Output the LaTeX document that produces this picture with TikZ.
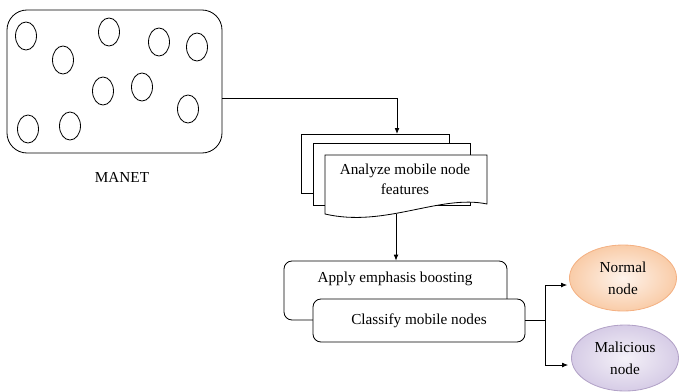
\documentclass[tikz,border=0pt]{standalone}
\usepackage{fontspec}
\setmainfont{Liberation Serif}
\usetikzlibrary{arrows.meta,positioning,calc,shapes.geometric}
\definecolor{normalin}{RGB}{254,243,235}
\definecolor{normalout}{RGB}{249,204,168}
\definecolor{normalline}{RGB}{244,177,131}
\definecolor{maliin}{RGB}{244,241,248}
\definecolor{maliout}{RGB}{214,204,230}
\definecolor{maliline}{RGB}{178,162,199}
\newcommand{\px}{0.03cm}

\begin{document}
\begin{tikzpicture}[x=0.03cm, y=-0.03cm, line width=0.7pt,
    every node/.style={font=\fontsize{13}{17}\selectfont},
    mote/.style={draw, ellipse, minimum width=21*\px, minimum height=28*\px, inner sep=0pt},
    procbox/.style={draw, fill=white, rounded corners=8*\px, inner sep=0pt},
    outcome/.style={ellipse, align=center, inner sep=0pt, minimum width=107*\px, minimum height=66*\px,
        font=\fontsize{13}{19}\selectfont},
    flow/.style={-{Latex[length=5pt,width=4pt]}}]
    \useasboundingbox (0,0) rectangle (681,391);
    % MANET area with mobile nodes
    \node[draw, rounded corners=20*\px, minimum width=215*\px, minimum height=143*\px] (manet) at (114.5,81.5) {};
    \foreach \x/\y [count=\i] in {26/36, 63/60, 109/32, 159/42, 197/47, 103/91, 142/87, 188/109, 28/129, 70/126}
        \node[mote] (m\i) at (\x,\y) {};
    \node (manetlabel) at (122,177) {MANET};
    % Stacked documents
    \draw[fill=white] (301,134) rectangle (449,193);
    \draw[fill=white] (313,143) rectangle (470,205);
    \draw[fill=white] (325,155) -- (487,155) -- (487,204)
        .. controls (440,194) and (385,228) .. (325,214) -- cycle;
    \node[align=center] (analyze) at (405,179) {Analyze mobile node\\features};
    \coordinate (doctop) at (397,134);
    \coordinate (docbot) at (396,214);
    % Processing boxes
    \node[procbox, minimum width=223*\px, minimum height=59*\px] (apply) at (395.5,290.5) {};
    \node (applytext) at (395,279) {Apply emphasis boosting};
    \node[procbox, minimum width=212*\px, minimum height=43*\px] (classify) at (419,320.5) {Classify mobile nodes};
    % Outcomes
    \node[outcome, draw=normalline, inner color=normalin, outer color=normalout] (normal) at (623,278) {Normal\\node};
    \node[outcome, draw=maliline, inner color=maliin, outer color=maliout] (malicious) at (625,358) {Malicious\\node};
    % Connectors
    \draw[flow] ($(manet.east)+(0,16.5)$) -| (doctop);
    \draw[flow] (docbot) -- (docbot |- apply.north);
    \coordinate (split) at ($(classify.east)+(20,0)$);
    \draw (classify.east) -- (split);
    \draw[flow] (split) |- ($(normal.west)+(-2,7)$);
    \draw[flow] (split) |- ($(malicious.west)+(-3,7)$);
\end{tikzpicture}
\end{document}
